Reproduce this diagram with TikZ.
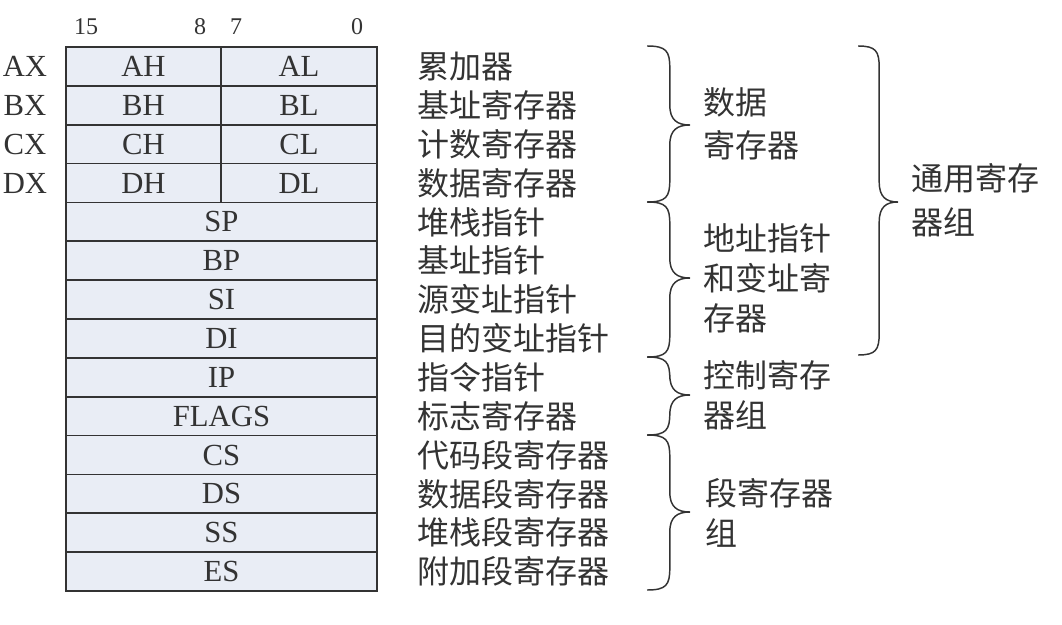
\documentclass[tikz,border=0pt]{standalone}
\usepackage{fontspec}
\setmainfont{Liberation Serif}
\newfontfamily\cjk{Noto Sans CJK SC}
\definecolor{ink}{HTML}{333333}
\definecolor{regfill}{HTML}{E9EDF5}
\tikzset{
  reg/.style={draw=ink, fill=regfill, line width=1.2pt, inner sep=0pt, outer sep=0pt,
    minimum height=29.143pt, text=ink, font=\fontsize{23}{23}\selectfont},
  full/.style={minimum width=233.25pt},
  halfl/.style={minimum width=116.25pt},
  halfr/.style={minimum width=117pt},
  desc/.style={anchor=west, inner sep=0pt, text=ink, font=\cjk\fontsize{24}{24}\selectfont},
  grp/.style={anchor=west, inner sep=0pt, text=ink, align=left},
  rlabel/.style={inner sep=0pt, text=ink, font=\fontsize{23}{23}\selectfont},
  bitlabel/.style={inner sep=0pt, text=ink, font=\fontsize{18}{18}\selectfont},
  bracestyle/.style={draw=ink, line width=1.1pt},
}
\newcommand\drawregbrace[5]{% x, y1, ym, y2, width
  \draw[bracestyle] (#1,#2) .. controls (#1+0.45*#5,#2) and (#1+0.53*#5,#2+5) .. (#1+0.53*#5,#2+22)
    -- (#1+0.53*#5,#3-20) .. controls (#1+0.53*#5,#3-5) and (#1+0.7*#5,#3) .. (#1+#5,#3)
    .. controls (#1+0.7*#5,#3) and (#1+0.53*#5,#3+5) .. (#1+0.53*#5,#3+20)
    -- (#1+0.53*#5,#4-22) .. controls (#1+0.53*#5,#4-5) and (#1+0.45*#5,#4) .. (#1,#4);}
\begin{document}
\begin{tikzpicture}[x=0.75pt, y=-0.75pt]
\useasboundingbox (0,0) rectangle (1062,624);
% bit numbers
\node[bitlabel] (b15) at (86,27) {15};
\node[bitlabel] (b8) at (200,27) {8};
\node[bitlabel] (b7) at (236,27) {7};
\node[bitlabel] (b0) at (357,27) {0};
% split registers
\foreach \r [count=\i from 0] in {A,B,C,D} {
  \node[reg,halfl] (\r H) at (143.5,{47+(\i+0.5)*38.857}) {\r H};
  \node[reg,halfr] (\r L) at (299,{47+(\i+0.5)*38.857}) {\r L};
  \node[rlabel] (\r X) at (25,{47+(\i+0.5)*38.857}) {\r X};
}
% full registers
\foreach \r [count=\i from 4] in {SP,BP,SI,DI,IP,FLAGS,CS,DS,SS,ES} {
  \node[reg,full] (\r) at (221.5,{47+(\i+0.5)*38.857}) {\r};
}
% descriptions
\foreach \t [count=\i from 0] in {累加器,基址寄存器,计数寄存器,数据寄存器,堆栈指针,基址指针,源变址指针,目的变址指针,指令指针,标志寄存器,代码段寄存器,数据段寄存器,堆栈段寄存器,附加段寄存器} {
  \node[desc] (d\i) at (417,{47+(\i+0.5)*38.857}) {\t};
}
% braces
\drawregbrace{647}{46}{125}{202}{43}
\drawregbrace{647}{202}{278}{357}{43}
\drawregbrace{647}{357}{395}{435}{43}
\drawregbrace{647}{435}{512}{590}{43}
\drawregbrace{858}{46}{202}{355}{40}
% group labels
\node[grp, font=\cjk\fontsize{24}{32}\selectfont] (g1) at (703,124) {数据\\寄存器};
\node[grp, font=\cjk\fontsize{24}{30}\selectfont] (g2) at (703,278) {地址指针\\和变址寄\\存器};
\node[grp, font=\cjk\fontsize{24}{30}\selectfont] (g3) at (703,395) {控制寄存\\器组};
\node[grp, font=\cjk\fontsize{24}{30}\selectfont] (g4) at (705,513) {段寄存器\\组};
\node[grp, font=\cjk\fontsize{24}{33}\selectfont] (g5) at (911,200) {通用寄存\\器组};
\end{tikzpicture}
\end{document}
